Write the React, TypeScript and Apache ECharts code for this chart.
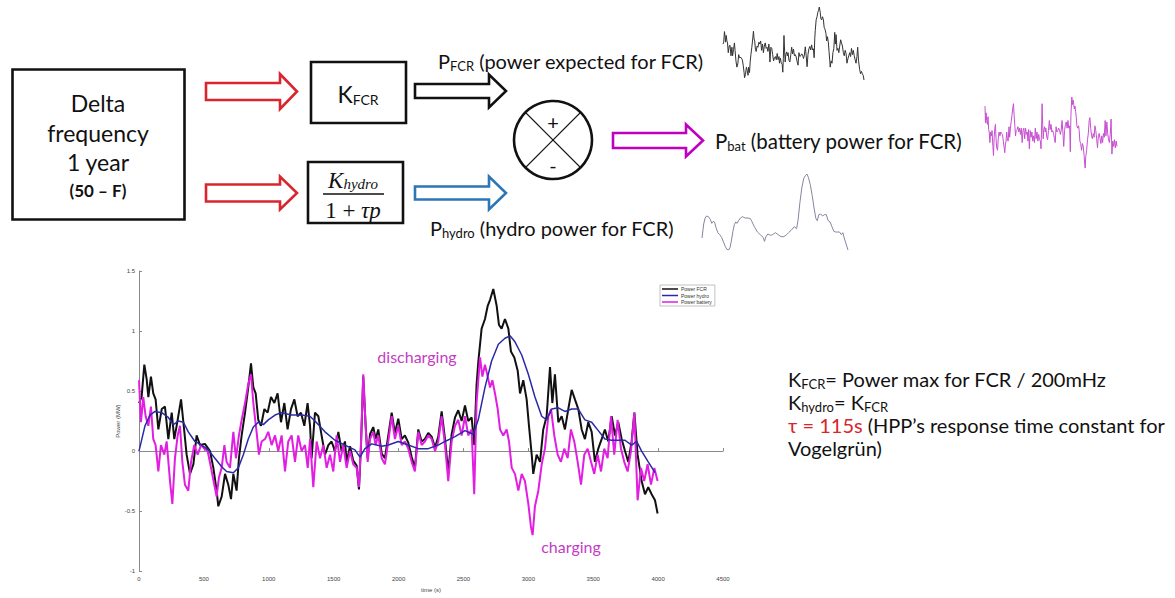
import React, { useEffect, useRef } from "react";
import * as echarts from "echarts";

// ---- data (time in s, power in MW) ----
const fcrPower: [number, number][] = [
  [0, 0.4], [20, 0.45], [41, 0.72], [59, 0.6], [72, 0.45], [92, 0.62], [110, 0.48], [128, 0.43], [149, 0.18], [175, 0.35],
  [200, 0.37], [226, 0.1], [252, 0.32], [272, 0.1], [298, 0.26], [324, 0.43], [342, 0.24], [367, -0.03], [393, -0.19], [419, -0.11],
  [444, 0.13], [470, 0.05], [508, 0.06], [547, 0], [573, -0.14], [598, -0.33], [611, -0.46], [637, -0.38], [663, -0.19], [688, -0.28],
  [709, -0.4], [727, -0.19], [752, -0.33], [770, -0.06], [791, 0.13], [817, 0.32], [842, 0.53], [863, 0.73], [881, 0.53], [899, 0.48],
  [919, 0.26], [940, 0.21], [966, 0.35], [991, 0.32], [1017, 0.45], [1043, 0.4], [1068, 0.48], [1094, 0.24], [1120, 0.4], [1145, 0.18],
  [1171, 0.35], [1197, 0.43], [1222, 0.29], [1248, 0.32], [1274, 0.21], [1299, 0.4], [1318, 0.21], [1330, -0.06], [1356, 0.32], [1382, 0.29],
  [1407, 0.13], [1433, -0.03], [1459, 0.05], [1484, 0.08], [1510, 0], [1536, 0.16], [1561, 0], [1587, 0.08], [1600, -0.09], [1626, 0.04],
  [1651, -0.08], [1677, -0.12], [1695, -0.32], [1710, 0.03], [1728, 0.62], [1746, 0.22], [1762, -0.06], [1780, 0.14], [1805, 0.2], [1823, 0.1],
  [1844, 0.18], [1870, -0.02], [1895, -0.06], [1921, 0.13], [1947, 0.32], [1972, 0.15], [1998, 0.27], [2024, 0.1], [2049, 0.13], [2075, 0.07],
  [2101, -0.05], [2126, -0.14], [2152, 0.18], [2178, 0.08], [2203, 0.1], [2229, 0.15], [2255, 0.12], [2281, 0.03], [2306, 0.12], [2332, 0.33],
  [2358, 0.1], [2383, -0.18], [2409, 0.14], [2435, 0.28], [2460, 0.34], [2486, 0.25], [2512, 0.38], [2537, 0.25], [2563, 0.28], [2583, 0.05],
  [2601, 0.55], [2615, 0.75], [2640, 1.02], [2666, 1.1], [2687, 1.21], [2705, 1.26], [2730, 1.35], [2756, 1.21], [2774, 1.05], [2794, 1.02],
  [2820, 1.1], [2846, 1.02], [2866, 0.83], [2892, 0.78], [2918, 0.67], [2936, 0.48], [2961, 0.59], [2987, 0.43], [3005, 0.21], [3026, -0.03],
  [3038, -0.19], [3064, -0.03], [3090, -0.09], [3115, 0.18], [3141, 0.29], [3167, 0.7], [3185, 0.4], [3205, 0.64], [3231, 0.24], [3257, 0.29],
  [3282, 0.18], [3308, 0.35], [3334, 0.51], [3359, 0.43], [3385, 0.35], [3411, 0.18], [3436, 0.1], [3462, 0.24], [3488, 0.16], [3513, -0.09],
  [3539, 0.02], [3565, 0.1], [3590, 0.18], [3616, 0.08], [3642, 0.29], [3668, 0.13], [3693, 0.24], [3719, 0.1], [3745, 0], [3770, -0.09],
  [3796, 0.08], [3817, 0.32], [3842, -0.03], [3873, -0.25], [3899, -0.36], [3924, -0.3], [3950, -0.36], [3976, -0.41], [3996, -0.52],
];

const hydroPower: [number, number][] = [
  [0, 0], [46, 0.21], [85, 0.3], [123, 0.33], [175, 0.32], [226, 0.28], [265, 0.22], [303, 0.25], [342, 0.24], [380, 0.16],
  [431, 0.08], [483, 0.05], [534, 0.01], [585, -0.06], [637, -0.13], [675, -0.17], [727, -0.18], [765, -0.14], [804, -0.03], [842, 0.1],
  [881, 0.2], [919, 0.24], [958, 0.22], [996, 0.26], [1048, 0.3], [1099, 0.32], [1176, 0.3], [1253, 0.3], [1317, 0.29], [1356, 0.25],
  [1433, 0.16], [1510, 0.09], [1587, 0.05], [1664, 0.01], [1703, -0.05], [1741, 0.02], [1793, 0.06], [1870, 0.04], [1921, 0.05], [1998, 0.08],
  [2075, 0.05], [2152, 0.02], [2229, 0.02], [2306, 0.05], [2358, 0.08], [2435, 0.12], [2512, 0.17], [2576, 0.14], [2614, 0.26], [2666, 0.53],
  [2717, 0.75], [2769, 0.89], [2820, 0.94], [2859, 0.96], [2897, 0.91], [2949, 0.8], [3000, 0.64], [3051, 0.45], [3103, 0.29], [3141, 0.26],
  [3180, 0.35], [3231, 0.36], [3282, 0.33], [3334, 0.35], [3385, 0.35], [3436, 0.26], [3488, 0.24], [3539, 0.17], [3590, 0.1], [3642, 0.09],
  [3693, 0.09], [3745, 0.09], [3796, 0.05], [3835, 0.08], [3873, 0], [3924, -0.09], [3976, -0.18],
];

const batteryPower: [number, number][] = [
  [0, 0.59], [15, 0.24], [33, 0.45], [51, 0.29], [72, 0.21], [92, 0.37], [110, 0.1], [128, 0.05], [149, -0.17], [169, 0.05],
  [195, -0.03], [213, 0.08], [239, -0.25], [257, -0.44], [277, -0.06], [298, 0.13], [316, 0.21], [334, -0.09], [354, -0.28], [380, -0.33],
  [401, -0.09], [426, 0.05], [452, -0.03], [478, 0.05], [503, 0.02], [529, 0], [555, -0.14], [580, -0.28], [598, -0.38], [616, -0.22],
  [637, -0.14], [658, 0.05], [675, -0.09], [701, -0.14], [727, 0.16], [747, -0.06], [770, 0.13], [791, 0.26], [817, 0.4], [842, 0.56],
  [863, 0.64], [881, 0.4], [906, 0.16], [924, -0.03], [945, 0.08], [971, 0.1], [996, 0.16], [1022, 0.05], [1048, 0.13], [1073, 0],
  [1099, 0.13], [1125, -0.17], [1150, 0.08], [1176, 0.13], [1202, -0.09], [1227, 0.13], [1253, 0], [1279, 0.05], [1300, -0.14], [1318, 0.1],
  [1343, -0.3], [1369, 0.08], [1395, -0.06], [1420, 0.05], [1446, -0.14], [1472, -0.03], [1497, -0.17], [1523, 0.13], [1549, -0.09], [1574, 0.05],
  [1600, -0.14], [1626, 0], [1651, -0.11], [1677, -0.14], [1695, -0.3], [1710, 0.05], [1728, 0.64], [1746, 0.21], [1762, -0.09], [1780, 0.1],
  [1805, 0.16], [1823, 0.05], [1844, 0.13], [1870, -0.06], [1895, -0.11], [1921, 0.08], [1947, 0.29], [1972, 0.1], [1998, 0.21], [2024, 0.05],
  [2049, 0.08], [2075, 0.02], [2101, -0.09], [2126, -0.17], [2152, 0.16], [2178, 0.05], [2203, 0.08], [2229, 0.13], [2255, 0.1], [2281, 0],
  [2306, 0.08], [2332, 0.29], [2358, 0.05], [2383, -0.25], [2409, 0.08], [2435, 0.21], [2460, 0.26], [2486, 0.13], [2512, 0.29], [2537, 0.13],
  [2563, 0.18], [2583, -0.36], [2601, 0.4], [2628, 0.78], [2646, 0.62], [2666, 0.72], [2687, 0.62], [2705, 0.53], [2723, 0.59], [2743, 0.48],
  [2764, 0.35], [2782, 0.18], [2807, 0.13], [2833, 0.18], [2851, 0.08], [2872, -0.14], [2897, -0.19], [2923, -0.33], [2949, -0.19], [2974, -0.25],
  [3000, -0.44], [3020, -0.63], [3033, -0.7], [3051, -0.46], [3077, -0.33], [3103, -0.11], [3128, 0.02], [3154, 0.29], [3175, 0.35], [3200, 0.13],
  [3226, -0.03], [3251, -0.09], [3277, 0.02], [3303, -0.06], [3328, 0.18], [3354, 0.08], [3380, -0.09], [3406, -0.28], [3431, -0.03], [3457, 0.02],
  [3483, -0.09], [3508, -0.19], [3534, -0.03], [3560, -0.17], [3585, 0.02], [3611, -0.06], [3637, 0.29], [3662, -0.03], [3688, 0.26], [3714, 0.02],
  [3739, -0.09], [3765, -0.17], [3791, 0], [3817, 0.32], [3842, -0.41], [3868, -0.14], [3893, -0.25], [3919, -0.11], [3945, -0.28], [3971, -0.14],
  [3996, -0.25],
];

const seriesNames = ["Power FCR", "Power hydro", "Power battery"];
const timeAxis = { min: 0, max: 4500, interval: 500 };
const powerAxis = { min: -1, max: 1.5, interval: 0.5 };

// ---- styling ----
const FONT = "Lato, 'Open Sans', sans-serif";
const SERIF = "'Liberation Serif', 'DejaVu Serif', serif";
const C_BLACK = "#111111";
const C_BLUE = "#2a2aa6";
const C_MAG = "#e11ee1";
const C_RED = "#d9262e";
const C_ARROW_BLUE = "#2e75b6";
const C_ARROW_MAG = "#c000c0";
const C_LABEL_MAG = "#c43cc4";

function blockArrow(x0: number, x1: number, c: number, h1: number, h2: number, L: number, color: string) {
  return {
    type: "polygon",
    shape: {
      points: [
        [x0, c - h1], [x1 - L, c - h1], [x1 - L, c - h2], [x1, c],
        [x1 - L, c + h2], [x1 - L, c + h1], [x0, c + h1],
      ],
    },
    style: { fill: "#ffffff", stroke: color, lineWidth: 2.6, lineJoin: "miter" },
  };
}

function txt(x: number, y: number, text: string, extra: any = {}) {
  return {
    type: "text",
    x,
    y,
    style: {
      text,
      fontFamily: FONT,
      fontSize: 20,
      fill: "#111",
      align: "left",
      verticalAlign: "middle",
      ...extra,
    },
  };
}

// subscripts are pushed down by a top padding on their token
const subRich = (size: number, sub = 13) => ({
  k: { fontSize: size, fontFamily: FONT, lineHeight: 22, fill: "#111" },
  s: { fontSize: sub, fontFamily: FONT, lineHeight: 12, padding: [10, 0, 0, 0], fill: "#111" },
  r: { fontSize: size, fontFamily: FONT, lineHeight: 22, fill: C_RED },
});

const richText = (x: number, y: number, text: string, size: number, align = "left", sub = 13) => ({
  type: "text", x, y,
  style: { text, align, verticalAlign: "middle", rich: subRich(size, sub) },
});

export default function App() {
  const ref = useRef<HTMLDivElement>(null);

  useEffect(() => {
    if (!ref.current) return;
    const chart = echarts.init(ref.current, undefined, { renderer: "svg" });

    const sparkAxis = (grid: number, min: number, max: number, xmax: number) => ({
      x: { type: "value", gridIndex: grid, min: 0, max: xmax, show: false },
      y: { type: "value", gridIndex: grid, min, max, show: false },
    });
    const sFcr = sparkAxis(1, -0.52, 1.35, 3996);
    const sBat = sparkAxis(2, -0.7, 0.78, 3996);
    const sHyd = sparkAxis(3, -0.18, 0.96, 3976);

    const graphic: any[] = [
      // input box
      { type: "rect", shape: { x: 12.5, y: 69.5, width: 172, height: 150 }, style: { fill: "#fff", stroke: "#111", lineWidth: 2.6 } },
      txt(98, 103, "Delta", { align: "center", fontSize: 23 }),
      txt(98, 133, "frequency", { align: "center", fontSize: 23 }),
      txt(98, 162, "1 year", { align: "center", fontSize: 23 }),
      txt(98, 190, "(50 – F)", { align: "center", fontSize: 17, fontWeight: "bold" }),
      // red arrows
      blockArrow(206, 297, 91.5, 8.5, 17.5, 17, C_RED),
      blockArrow(206, 297, 193, 8.5, 16.5, 17, C_RED),
      // K_FCR box
      { type: "rect", shape: { x: 311, y: 62, width: 95, height: 61 }, style: { fill: "#fff", stroke: "#111", lineWidth: 2.6 } },
      richText(358, 94, "{k|K}{s|FCR}", 23, "center", 14),
      // hydro transfer function box
      { type: "rect", shape: { x: 308, y: 162, width: 95, height: 61 }, style: { fill: "#fff", stroke: "#111", lineWidth: 2.6 } },
      {
        type: "text", x: 353, y: 180,
        style: {
          text: "{k|K}{s|hydro}", align: "center", verticalAlign: "middle",
          rich: {
            k: { fontSize: 23, fontFamily: SERIF, fontStyle: "italic", lineHeight: 24, fill: "#111" },
            s: { fontSize: 15, fontFamily: SERIF, fontStyle: "italic", lineHeight: 16, padding: [8, 0, 0, 0], fill: "#111" },
          },
        },
      },
      { type: "line", shape: { x1: 323, y1: 194, x2: 384, y2: 194 }, style: { stroke: "#111", lineWidth: 1.3 } },
      {
        type: "text", x: 353, y: 210,
        style: {
          text: "{n|1 + }{i|τp}", align: "center", verticalAlign: "middle",
          rich: {
            n: { fontSize: 23, fontFamily: SERIF, fill: "#111" },
            i: { fontSize: 23, fontFamily: SERIF, fontStyle: "italic", fill: "#111" },
          },
        },
      },
      // outputs of the two blocks
      blockArrow(415, 506, 91, 7, 16.5, 17, "#111"),
      blockArrow(415, 506, 193, 6.5, 16.5, 17, C_ARROW_BLUE),
      richText(438, 61, "{k|P}{s|FCR}{k| (power expected for FCR)}", 20),
      richText(430, 228, "{k|P}{s|hydro}{k| (hydro power for FCR)}", 20),
      // summing junction
      { type: "circle", shape: { cx: 553, cy: 140, r: 39 }, style: { fill: "#fff", stroke: "#111", lineWidth: 2.6 } },
      { type: "line", shape: { x1: 525.4, y1: 112.4, x2: 580.6, y2: 167.6 }, style: { stroke: "#111", lineWidth: 1.3 } },
      { type: "line", shape: { x1: 580.6, y1: 112.4, x2: 525.4, y2: 167.6 }, style: { stroke: "#111", lineWidth: 1.3 } },
      txt(553, 122, "+", { align: "center", fontSize: 20 }),
      txt(553, 165, "-", { align: "center", fontSize: 20 }),
      // battery output
      blockArrow(613, 703, 140.5, 7.5, 16, 17, C_ARROW_MAG),
      richText(715, 141, "{k|P}{s|bat}{k| (battery power for FCR)}", 20.5),
      // notes on the right
      richText(788, 379, "{k|K}{s|FCR}{k|= Power max for FCR / 200mHz}", 20),
      richText(788, 402, "{k|K}{s|hydro}{k|= K}{s|FCR}", 20),
      richText(788, 425, "{r|τ = 115s}{k| (HPP’s response time constant for}", 20),
      txt(788, 448, "Vogelgrün)"),
      // annotations on the plot
      txt(417, 356, "discharging", { align: "center", fontSize: 16, fill: C_LABEL_MAG }),
      txt(571, 546, "charging", { align: "center", fontSize: 16, fill: C_LABEL_MAG }),
    ];

    const axisLabelStyle = { fontSize: 6, color: "#444", fontFamily: "'Liberation Sans', sans-serif" };

    chart.setOption({
      animation: false,
      backgroundColor: "#ffffff",
      grid: [
        { left: 139, top: 271, width: 584, height: 308 },
        { left: 723, top: 7, width: 141, height: 73 },
        { left: 985, top: 97, width: 132, height: 71 },
        { left: 702, top: 174, width: 146, height: 76 },
      ],
      legend: {
        data: seriesNames,
        left: 660,
        top: 285,
        orient: "vertical",
        icon: "rect",
        itemWidth: 16,
        itemHeight: 1.5,
        itemGap: 1.5,
        padding: [1.5, 3, 1.5, 2],
        borderColor: "#999",
        borderWidth: 0.6,
        backgroundColor: "#fff",
        textStyle: { fontSize: 5, color: "#333", padding: [0, 0, 0, -2] },
      },
      xAxis: [
        {
          type: "value", gridIndex: 0, ...timeAxis,
          name: "time (s)", nameLocation: "middle", nameGap: 13,
          nameTextStyle: axisLabelStyle,
          axisLine: { show: true, lineStyle: { color: "#8a8a8a", width: 1 } },
          axisTick: { show: true, inside: true, length: 3, lineStyle: { color: "#8a8a8a" } },
          axisLabel: { ...axisLabelStyle, margin: 5, formatter: (v: number) => String(v) },
          splitLine: { show: false },
        },
        sFcr.x, sBat.x, sHyd.x,
      ],
      yAxis: [
        {
          type: "value", gridIndex: 0, ...powerAxis,
          name: "Power (MW)", nameLocation: "middle", nameGap: 17, nameRotate: 90,
          nameTextStyle: axisLabelStyle,
          axisLine: { show: true, lineStyle: { color: "#8a8a8a", width: 1 } },
          axisTick: { show: true, inside: true, length: 3, lineStyle: { color: "#8a8a8a" } },
          axisLabel: { ...axisLabelStyle, margin: 4, formatter: (v: number) => String(v) },
          splitLine: { show: false },
        },
        sFcr.y, sBat.y, sHyd.y,
      ],
      series: [
        { name: seriesNames[0], type: "line", xAxisIndex: 0, yAxisIndex: 0, data: fcrPower, showSymbol: false, lineStyle: { color: C_BLACK, width: 2 }, itemStyle: { color: C_BLACK } },
        { name: seriesNames[2], type: "line", xAxisIndex: 0, yAxisIndex: 0, data: batteryPower, showSymbol: false, lineStyle: { color: C_MAG, width: 2 }, itemStyle: { color: C_MAG } },
        { name: seriesNames[1], type: "line", xAxisIndex: 0, yAxisIndex: 0, data: hydroPower, showSymbol: false, lineStyle: { color: C_BLUE, width: 1.5 }, itemStyle: { color: C_BLUE } },
        { name: "spark FCR", type: "line", xAxisIndex: 1, yAxisIndex: 1, data: fcrPower, showSymbol: false, lineStyle: { color: "#333", width: 1 } },
        { name: "spark battery", type: "line", xAxisIndex: 2, yAxisIndex: 2, data: batteryPower, showSymbol: false, lineStyle: { color: "#c64fd0", width: 1 } },
        { name: "spark hydro", type: "line", xAxisIndex: 3, yAxisIndex: 3, data: hydroPower, showSymbol: false, lineStyle: { color: "#8585a0", width: 1 } },
      ],
      graphic,
    });

    return () => chart.dispose();
  }, []);

  return (
    <div
      ref={ref}
      style={{ position: "absolute", left: 0, top: 0, width: 1175, height: 598, background: "#fff" }}
    />
  );
}
